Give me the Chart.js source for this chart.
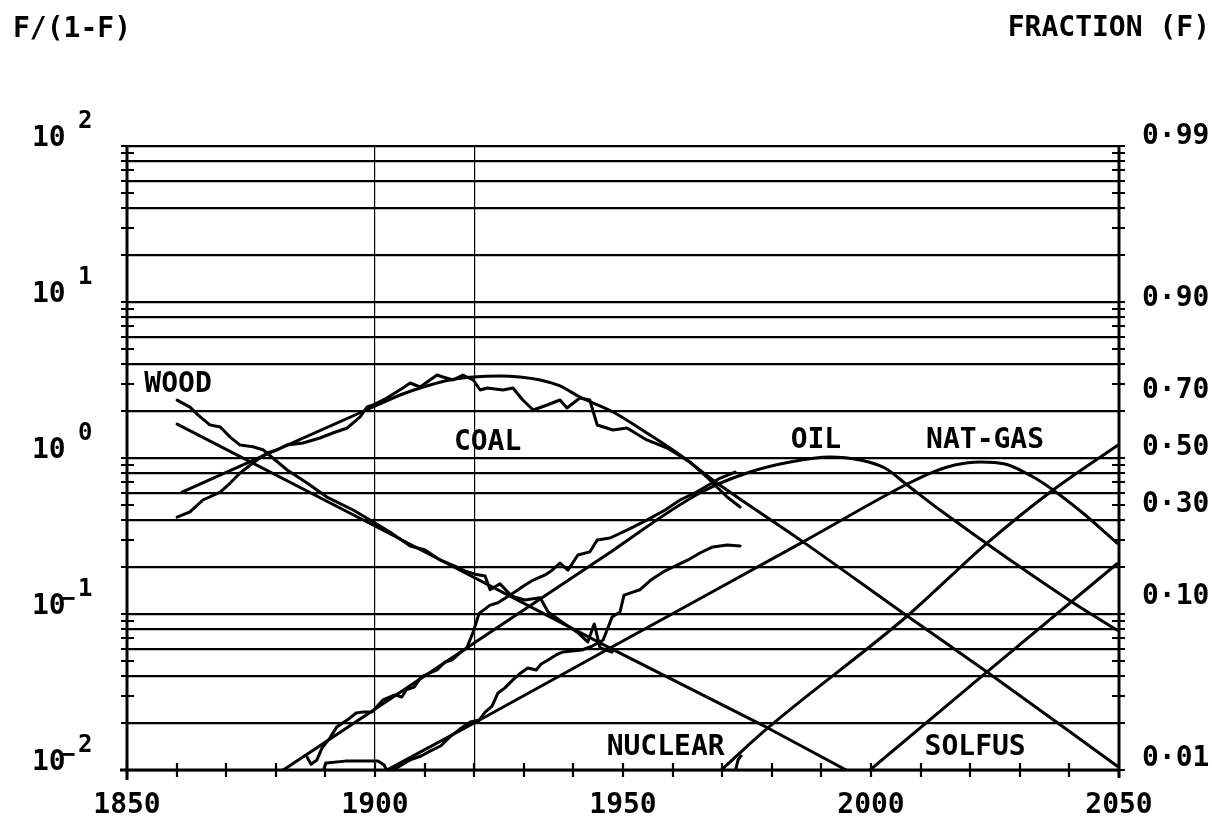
<!DOCTYPE html>
<html>
<head>
<meta charset="utf-8">
<title>Energy substitution F/(1-F)</title>
<script src="https://cdn.jsdelivr.net/npm/chart.js@4/dist/chart.umd.min.js"></script>
<style>
html,body{margin:0;padding:0;background:#ffffff;overflow:hidden;}
#box{position:absolute;left:0;top:0;width:1212px;height:820px;}
</style>
</head>
<body>
<div id="box"><canvas id="chart" width="1212" height="820"></canvas></div>
<script>
// ---------------- data (years, F/(1-F)) ----------------
const xTickLabels = [1850, 1900, 1950, 2000, 2050];
const verticalLines = [1900, 1920];
const yExponents = [2, 1, 0, -1, -2];
const fractionLabels = [0.99, 0.90, 0.70, 0.50, 0.30, 0.10, 0.01];
const yMinorTicks = [0.01,0.02,0.03,0.04,0.05,0.06,0.07,0.08,0.09,
  0.1,0.2,0.3,0.4,0.5,0.6,0.7,0.8,0.9,
  1,2,3,4,5,6,7,8,9,
  10,20,30,40,50,60,70,80,90,100];
const yGridValues = [0.01,0.02,0.04,0.06,0.08,0.1,0.2,0.4,0.6,0.8,1,2,4,6,8,10,20,40,60,80,100];

// historical data
const woodYears = [1860.1,1862.7,1864.3,1866.7,1868.8,1870.8,1872.8,1875.4,1877.4,1879.4,1882.3,1886.3,1890.3,1895.6,1899.0,1903.0,1907.1,1910.1,1913.1,1916.1,1918.1,1920.2,1922.2,1923.2,1925.2,1927.6,1930.2,1933.3,1934.9,1937.7,1940.7,1942.9,1944.2,1945.4,1947.8];
const woodVals  = [2.35,2.12,1.89,1.63,1.58,1.36,1.21,1.18,1.13,1.00,0.838,0.691,0.562,0.464,0.400,0.335,0.273,0.257,0.222,0.203,0.189,0.180,0.175,0.143,0.156,0.130,0.123,0.127,0.103,0.0889,0.0767,0.0662,0.0863,0.0605,0.0571];

const coalYears = [1860.1,1862.7,1865.3,1868.8,1870.8,1872.8,1875.4,1878.2,1880.2,1882.3,1885.5,1888.9,1891.5,1894.4,1897.0,1898.4,1899.6,1902.4,1905.6,1907.1,1909.1,1912.5,1913.7,1915.7,1917.7,1919.8,1921.2,1922.6,1925.8,1927.8,1929.8,1931.9,1934.7,1937.3,1938.7,1941.3,1943.3,1944.8,1948.0,1950.8,1954.8,1958.9,1963.5,1966.9,1968.1,1971.0,1973.6];
const coalVals  = [0.418,0.451,0.538,0.605,0.691,0.801,0.929,1.077,1.125,1.212,1.248,1.343,1.446,1.557,1.832,2.123,2.187,2.425,2.810,3.026,2.852,3.405,3.305,3.162,3.405,3.162,2.729,2.810,2.729,2.810,2.354,2.031,2.187,2.354,2.091,2.425,2.354,1.627,1.512,1.557,1.305,1.159,0.943,0.755,0.691,0.562,0.485];

const oilYears = [1886.3,1887.1,1888.3,1889.3,1890.9,1892.3,1894.4,1896.2,1897.4,1899.4,1901.6,1904.0,1905.4,1906.3,1907.9,1909.3,1912.5,1914.1,1915.5,1917.1,1918.5,1919.8,1921.0,1923.2,1924.8,1927.8,1930.2,1931.9,1934.3,1935.7,1937.3,1938.9,1940.9,1943.3,1944.8,1947.4,1950.8,1954.8,1958.5,1961.5,1964.5,1966.9,1969.6,1972.6];
const oilVals  = [0.0121,0.0109,0.0116,0.0138,0.0160,0.0189,0.0209,0.0232,0.0235,0.0235,0.0281,0.0303,0.0294,0.0326,0.0340,0.0395,0.0438,0.0492,0.0507,0.0562,0.0605,0.0767,0.101,0.114,0.118,0.136,0.153,0.165,0.178,0.191,0.212,0.191,0.239,0.250,0.298,0.307,0.345,0.400,0.464,0.538,0.597,0.662,0.744,0.813];

const gasYears = [1889.5,1890.1,1894.0,1900.6,1901.8,1902.6,1905.0,1907.1,1909.3,1911.1,1913.3,1915.1,1917.1,1919.2,1921.0,1922.2,1923.6,1924.8,1926.2,1927.8,1929.4,1930.8,1932.5,1933.5,1934.9,1936.5,1937.9,1939.7,1941.7,1943.8,1946.0,1947.8,1949.4,1950.2,1952.0,1953.4,1955.6,1958.1,1960.5,1963.1,1965.5,1968.1,1971.0,1973.6];
const gasVals  = [0.0097,0.0111,0.0114,0.0114,0.0108,0.0097,0.0106,0.0116,0.0123,0.0132,0.0143,0.0163,0.0183,0.0203,0.0209,0.0235,0.0257,0.0312,0.0336,0.0378,0.0419,0.0451,0.0438,0.0478,0.0507,0.0546,0.0571,0.0579,0.0588,0.0623,0.0681,0.0956,0.103,0.132,0.138,0.143,0.165,0.186,0.203,0.222,0.246,0.269,0.277,0.273];

const nuclearYears = [1972.6,1973.2,1973.8];
const nuclearVals  = [0.0097,0.0116,0.0123];

// fitted substitution curves
const woodFitYears = [1860.1,1899.6,1947.4,1979.2,1995.0];
const woodFitVals  = [1.65,0.372,0.0605,0.0186,0.0100];

const coalFitYears = [1861.1,1899.6,1905.6,1911.1,1915.1,1919.8,1925.2,1929.2,1933.3,1937.3,1941.3,1948.0,1954.8,1961.5,1968.1,1986.3,2007.3,2023.4,2049.6];
const coalFitVals  = [0.605,2.123,2.572,2.938,3.162,3.305,3.355,3.305,3.162,2.895,2.460,1.972,1.446,1.045,0.723,0.290,0.0971,0.0425,0.0106];

const oilFitYears = [1881.5,1899.8,1945.4,1965.5,1975.6,1983.7,1991.7,1997.8,2002.8,2007.3,2013.9,2039.9,2049.6];
const oilFitVals  = [0.0100,0.0243,0.225,0.597,0.813,0.943,1.015,0.971,0.863,0.671,0.464,0.123,0.0789];

const gasFitYears = [1902.4,1920.0,1947.4,1986.3,2007.3,2012.5,2016.9,2022.0,2027.0,2032.7,2036.7,2042.7,2049.6];
const gasFitVals  = [0.0100,0.0200,0.0605,0.290,0.681,0.813,0.902,0.943,0.915,0.755,0.624,0.444,0.285];

const nuclearFitYears = [1969.8,1979.2,2007.3,2023.4,2036.7,2049.6];
const nuclearFitVals  = [0.0100,0.0186,0.0971,0.285,0.624,1.20];

const solfusFitYears = [1999.8,2023.4,2049.6];
const solfusFitVals  = [0.0100,0.0425,0.210];

// curve name labels: [text, year, F/(1-F) at text baseline]
const curveNames = [
  ['WOOD', 1860.3, 2.65],
  ['COAL', 1922.7, 1.13],
  ['OIL', 1988.9, 1.16],
  ['NAT-GAS', 2023.0, 1.16],
  ['NUCLEAR', 1958.6, 0.0125],
  ['SOLFUS', 2021.0, 0.0125]
];

// ---------------- chart ----------------
const FONT = '"DejaVu Sans Mono", "Liberation Mono", monospace';
const BLACK = '#000000';
const CLEAR = 'rgba(0,0,0,0)';

function isGridValue(v) {
  return yGridValues.some(g => Math.abs(g - v) / g < 1e-6);
}

function series(years, vals, smooth) {
  return {
    data: years.map((yr, i) => ({ x: yr, y: vals[i] })),
    borderColor: BLACK,
    borderWidth: 3,
    pointRadius: 0,
    pointHoverRadius: 0,
    fill: false,
    tension: 0,
    cubicInterpolationMode: smooth ? 'monotone' : 'default',
    borderJoinStyle: 'round',
    borderCapStyle: 'round',
    xAxisID: 'x',
    yAxisID: 'y'
  };
}

const plotterPlugin = {
  id: 'plotter',
  afterDraw(chart) {
    const ctx = chart.ctx;
    const a = chart.chartArea;
    const xs = chart.scales.x;
    const ys = chart.scales.y;
    ctx.save();
    ctx.strokeStyle = BLACK;
    ctx.fillStyle = BLACK;

    // axis frame
    ctx.lineWidth = 3;
    ctx.beginPath();
    ctx.moveTo(a.left, a.top - 1); ctx.lineTo(a.left, a.bottom + 10);
    ctx.moveTo(a.right, a.top - 1); ctx.lineTo(a.right, a.bottom + 8);
    ctx.moveTo(a.left - 7, a.bottom); ctx.lineTo(a.right, a.bottom);
    ctx.stroke();

    // ticks crossing the axes
    ctx.lineWidth = 2.2;
    ctx.beginPath();
    yMinorTicks.forEach(v => {
      const py = Math.round(ys.getPixelForValue(v));
      ctx.moveTo(a.left - 6, py); ctx.lineTo(a.left + 7, py);
      ctx.moveTo(a.right - 7, py); ctx.lineTo(a.right + 6, py);
    });
    xs.ticks.forEach(t => {
      const px = Math.round(xs.getPixelForValue(t.value));
      ctx.moveTo(px, a.bottom - 7); ctx.lineTo(px, a.bottom + 7);
    });
    ctx.stroke();

    // left labels 10^n
    ctx.textBaseline = 'alphabetic';
    yExponents.forEach(e => {
      const py = ys.getPixelForValue(Math.pow(10, e));
      ctx.textAlign = 'left';
      ctx.font = 'bold 28px ' + FONT;
      ctx.fillText('10', 32, py);
      ctx.font = 'bold 24px ' + FONT;
      if (e < 0) {
        ctx.textAlign = 'center';
        ctx.fillText('\u2212', 68, py - 8);
        ctx.textAlign = 'left';
      }
      ctx.fillText(String(Math.abs(e)), 78, py - 18);
    });

    // right labels: fraction F
    ctx.font = 'bold 28px ' + FONT;
    ctx.textAlign = 'left';
    fractionLabels.forEach(f => {
      const py = ys.getPixelForValue(f / (1 - f));
      ctx.fillText(f.toFixed(2).replace('.', '\u00B7'), a.right + 23, py - 3);
    });

    // header titles
    ctx.fillText('F/(1-F)', 13, 37);
    ctx.textAlign = 'right';
    ctx.fillText('FRACTION (F)', 1210, 36);

    // curve names
    ctx.textAlign = 'center';
    curveNames.forEach(([txt, yr, v]) => {
      ctx.fillText(txt, xs.getPixelForValue(yr), ys.getPixelForValue(v));
    });
    ctx.restore();
  }
};

const config = {
  type: 'line',
  data: {
    datasets: [
      series(woodFitYears, woodFitVals, false),
      series(coalFitYears, coalFitVals, true),
      series(oilFitYears, oilFitVals, true),
      series(gasFitYears, gasFitVals, true),
      series(nuclearFitYears, nuclearFitVals, true),
      series(solfusFitYears, solfusFitVals, false),
      series(woodYears, woodVals, false),
      series(coalYears, coalVals, false),
      series(oilYears, oilVals, false),
      series(gasYears, gasVals, false),
      series(nuclearYears, nuclearVals, false)
    ]
  },
  options: {
    responsive: false,
    devicePixelRatio: 1,
    animation: false,
    events: [],
    layout: { padding: { top: 146, left: 0, right: 0, bottom: 0 } },
    plugins: { legend: { display: false }, tooltip: { enabled: false }, title: { display: false } },
    scales: {
      x: {
        type: 'linear',
        position: 'bottom',
        min: 1850,
        max: 2050,
        afterFit: s => { s.height = 50; },
        ticks: {
          stepSize: 10,
          autoSkip: false,
          maxRotation: 0,
          padding: 19,
          color: BLACK,
          font: { family: FONT, size: 28, weight: 'bold' },
          callback: v => (xTickLabels.includes(v) ? String(v) : '')
        },
        grid: {
          drawTicks: false,
          lineWidth: 1.2,
          color: c => (c.tick && verticalLines.includes(c.tick.value)) ? BLACK : CLEAR
        },
        border: { display: false }
      },
      y: {
        type: 'logarithmic',
        position: 'left',
        min: 0.01,
        max: 100,
        afterFit: s => { s.width = 127; },
        afterBuildTicks: s => { s.ticks = yMinorTicks.map(v => ({ value: v })); },
        ticks: { display: false },
        grid: {
          drawTicks: false,
          lineWidth: 2.2,
          color: c => (c.tick && isGridValue(c.tick.value)) ? BLACK : CLEAR
        },
        border: { display: false }
      },
      y2: {
        type: 'logarithmic',
        position: 'right',
        min: 0.01,
        max: 100,
        afterFit: s => { s.width = 93; },
        ticks: { display: false },
        grid: { display: false, drawTicks: false },
        border: { display: false }
      }
    }
  },
  plugins: [plotterPlugin]
};

new Chart(document.getElementById('chart'), config);
</script>
</body>
</html>
